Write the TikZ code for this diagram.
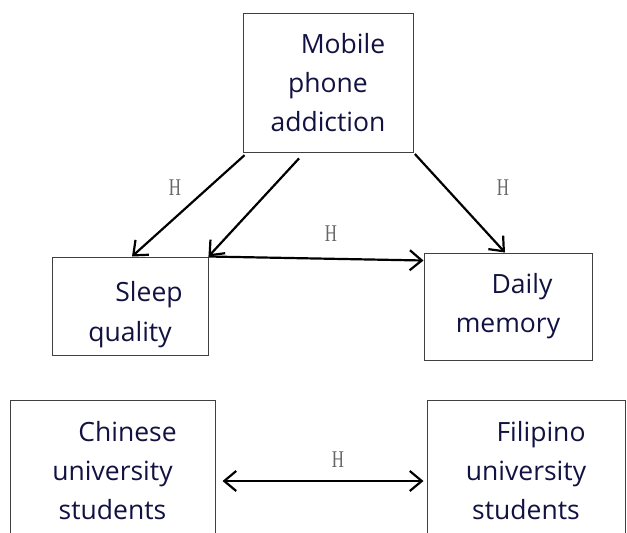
\documentclass[tikz,border=0pt]{standalone}
\usepackage{fontspec}
\setmainfont{Open Sans}
\newfontfamily\hfont{Liberation Serif}
\usetikzlibrary{arrows.meta, positioning, calc}
\definecolor{navytext}{RGB}{18,18,66}

\begin{document}
\begin{tikzpicture} [x = 1pt, y = -1pt, ->, >= {Straight Barb[length = 12pt, width = 20pt]}, line width = 2.2pt,
  box/.style = {draw = black!75, line width = 1pt, rectangle, inner sep = 0pt, text = navytext, align = center, font = \fontsize{26.5}{39}\selectfont},
  hlab/.style = {text = black!60, font = \hfont\fontsize{24}{24}\selectfont}]

\useasboundingbox (0,0) rectangle (627,533);
\clip (0,0) rectangle (627,533);

\node [box, minimum width = 170pt, minimum height = 139pt] (mobile) at (328,82.5) {\hspace*{30pt}Mobile\\phone\\addiction};
\node [box, minimum width = 156pt, minimum height = 98pt] (sleep) at (130,306) {\rule{0pt}{37pt}\hspace*{38pt}Sleep\\[1pt]quality};
\node [box, minimum width = 168pt, minimum height = 107pt] (daily) at (508,306.5) {\hspace*{28pt}Daily\\memory};

\path [shorten <= 4pt] ([xshift = 5pt]mobile.south west) edge ([xshift = 2pt]sleep.north);
\path [shorten <= 8pt] ([xshift = 62pt]mobile.south west) edge (sleep.north east);
\path (sleep.north east) edge ([yshift = -8pt]daily.north west);
\path [shorten <= 2pt] (mobile.south east) edge ([xshift = -3pt]daily.north);

\node [hlab] (h1) at (175,188) {\scalebox{0.7}[1]{H}};
\node [hlab] (h2) at (331,234) {\scalebox{0.7}[1]{H}};
\node [hlab] (h3) at (503,188) {\scalebox{0.7}[1]{H}};

\node [box, minimum width = 205pt, minimum height = 142pt] (chinese) at (112.5,471) {\hspace*{30pt}Chinese\\university\\students};
\node [box, minimum width = 198pt, minimum height = 142pt] (filipino) at (526,471) {\hspace*{30pt}Filipino\\university\\students};

\path [<->, shorten <= 7pt, shorten >= 3pt] ([yshift = -10pt]chinese.east) edge ([yshift = -10pt]filipino.west);

\node [hlab] (h4) at (338,460) {\scalebox{0.7}[1]{H}};

\end{tikzpicture}
\end{document}
